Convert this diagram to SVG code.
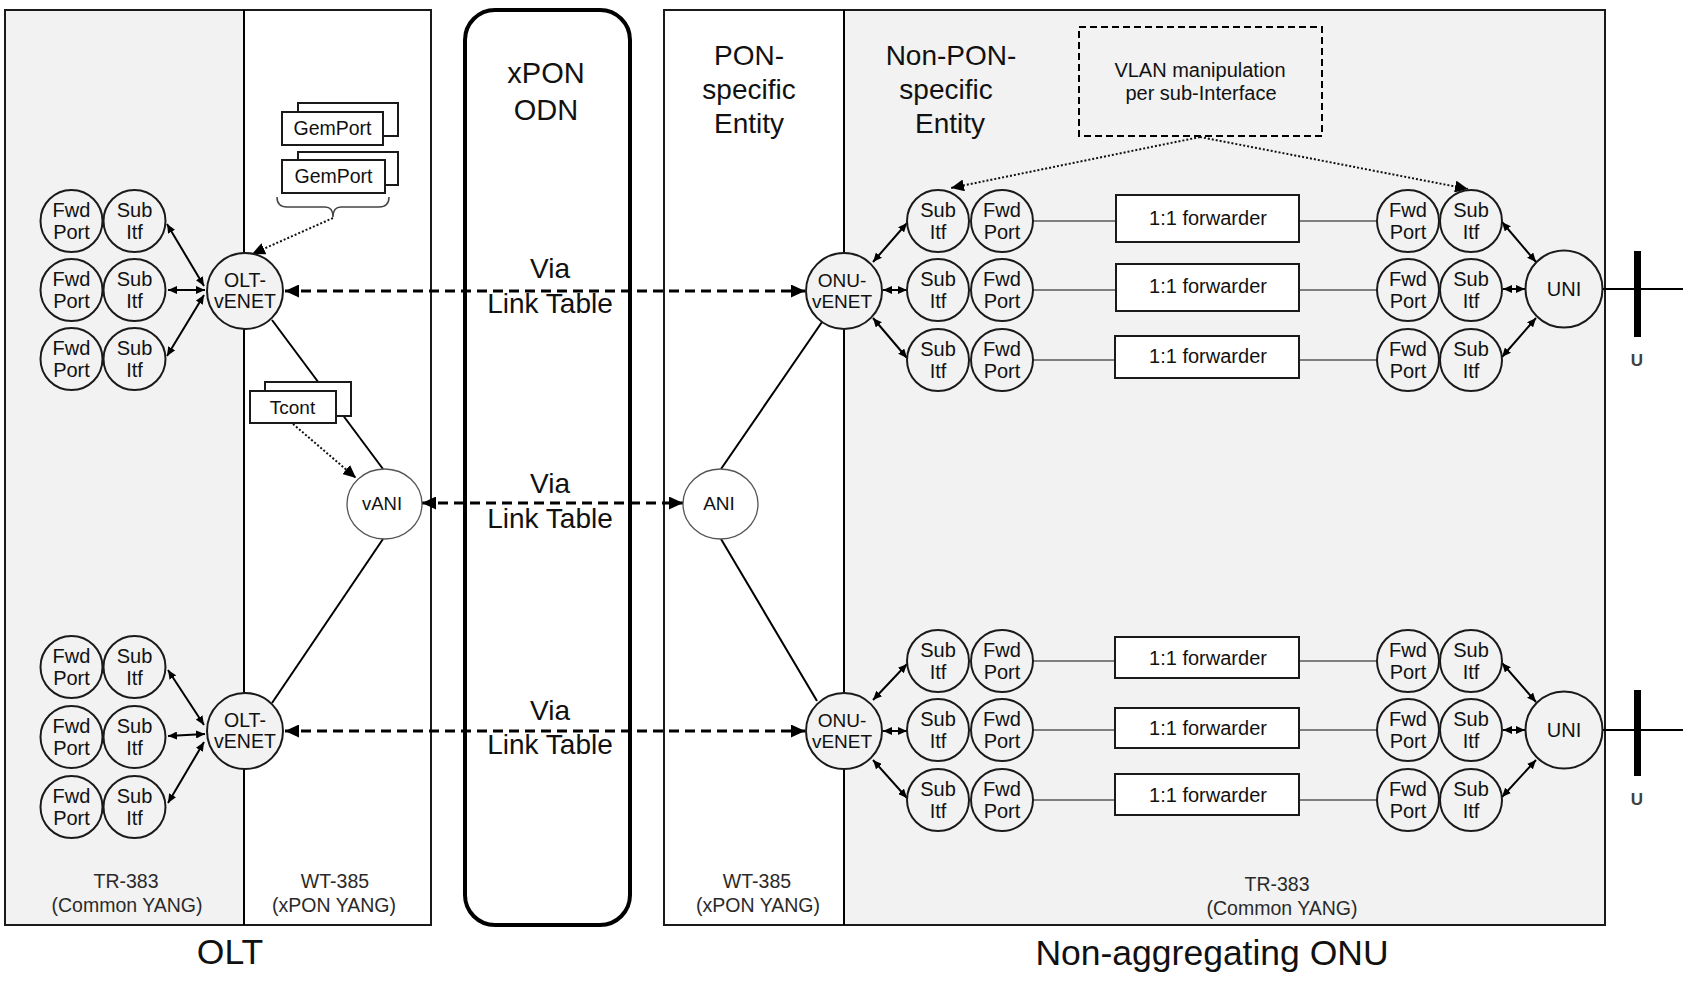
<svg xmlns="http://www.w3.org/2000/svg" width="1706" height="990" viewBox="0 0 1706 990">
<style>
.box{fill:#fff;stroke:#1a1a1a;stroke-width:2}
.gbox{fill:#f2f2f2;stroke:none}
.c{fill:none;stroke:#1a1a1a;stroke-width:2}
.cf{fill:#f2f2f2;stroke:#1a1a1a;stroke-width:2}
.cw{fill:#fff;stroke:#555;stroke-width:1.3}
.t{font-family:"Liberation Sans",Arial,sans-serif;font-size:20px;text-anchor:middle;fill:#111}
.big{font-size:28px}
.lbl{font-size:19.5px;fill:#2a2a2a}
.ttl{font-size:35.5px}
.u{font-size:17px;font-weight:bold;fill:#404040}
.dash{stroke:#000;stroke-width:3;stroke-dasharray:10 6;fill:none;marker-start:url(#ah);marker-end:url(#ah)}
.dot{stroke:#111;stroke-width:2;stroke-dasharray:2 2;fill:none;marker-end:url(#ad)}
.sl{stroke:#000;stroke-width:2;fill:none}
.da{stroke:#000;stroke-width:2;fill:none;marker-start:url(#as);marker-end:url(#as)}
.gl{stroke:#7f7f7f;stroke-width:2;fill:none}
.fw{fill:#fff;stroke:#1a1a1a;stroke-width:2}
</style>
<defs>
<marker id="ah" viewBox="0 0 14 13" refX="14" refY="6.5" markerWidth="14" markerHeight="13" markerUnits="userSpaceOnUse" orient="auto-start-reverse"><path d="M0,0 L14,6.5 L0,13 z" fill="#000"/></marker>
<marker id="ad" viewBox="0 0 13 12" refX="13" refY="6" markerWidth="13" markerHeight="12" markerUnits="userSpaceOnUse" orient="auto"><path d="M0,0 L13,6 L0,12 z" fill="#000"/></marker>
<marker id="as" viewBox="0 0 9 8" refX="9" refY="4" markerWidth="9" markerHeight="8" markerUnits="userSpaceOnUse" orient="auto-start-reverse"><path d="M0,0 L9,4 L0,8 z" fill="#000"/></marker>
</defs>
<rect width="1706" height="990" fill="#fff"/>

<g id="olt-box">
<rect x="5" y="10" width="426" height="915" class="box"/>
<rect x="6" y="11" width="238" height="913" class="gbox"/>
<line x1="244" y1="10" x2="244" y2="925" class="sl"/>
<text class="t lbl" x="126" y="888">TR-383</text>
<text class="t lbl" x="127" y="912">(Common  YANG)</text>
<text class="t lbl" x="335" y="888">WT-385</text>
<text class="t lbl" x="334" y="912">(xPON  YANG)</text>
</g>
<g id="odn-box">
<rect x="465" y="10" width="165" height="915" rx="30" ry="30" fill="#fff" stroke="#000" stroke-width="4"/>
<text class="t" style="font-size:29px" x="546" y="83">xPON</text>
<text class="t" style="font-size:29px" x="546" y="120">ODN</text>
</g>
<g id="onu-box">
<rect x="664" y="10" width="941" height="915" class="box"/>
<rect x="845" y="11" width="759" height="913" class="gbox"/>
<line x1="844" y1="10" x2="844" y2="925" class="sl"/>
<text class="t big" x="749" y="65">PON-</text>
<text class="t big" x="749" y="99">specific</text>
<text class="t big" x="749" y="133">Entity</text>
<text class="t big" x="951" y="65">Non-PON-</text>
<text class="t big" x="946" y="99">specific</text>
<text class="t big" x="950" y="133">Entity</text>
<text class="t lbl" x="757" y="888">WT-385</text>
<text class="t lbl" x="758" y="912">(xPON  YANG)</text>
<text class="t lbl" x="1277" y="891">TR-383</text>
<text class="t lbl" x="1282" y="915">(Common  YANG)</text>
</g>
<g id="vlan-box">
<rect x="1079" y="27" width="243" height="109" fill="none" stroke="#000" stroke-width="2" stroke-dasharray="7 4"/>
<text class="t" x="1200" y="77">VLAN manipulation</text>
<text class="t" x="1201" y="100">per sub-Interface</text>
</g>

<g id="connectors">
<line x1="285" y1="291" x2="805" y2="291" class="dash"/>
<line x1="422" y1="503" x2="683" y2="503" class="dash"/>
<line x1="285" y1="731" x2="805" y2="731" class="dash"/>
<line x1="272" y1="320" x2="383" y2="469" class="sl"/>
<line x1="383" y1="539" x2="272" y2="703" class="sl"/>
<line x1="822" y1="322" x2="721" y2="469" class="sl"/>
<line x1="721" y1="539" x2="817" y2="701" class="sl"/>
<path d="M333,218 L252,254" class="dot"/>
<path d="M293,424 L356,478" class="dot"/>
<path d="M1200,137 L951,188" class="dot"/>
<path d="M1200,137 L1468,189" class="dot"/>
<path d="M167,224 L204,286" class="da"/>
<path d="M168,290 L205,290" class="da"/>
<path d="M167,356 L204,295" class="da"/>
<path d="M168,670 L204,725" class="da"/>
<path d="M168,736 L205,734" class="da"/>
<path d="M168,803 L204,742" class="da"/>
<path d="M873,262 L907,223" class="da"/>
<path d="M883,290 L907,290" class="da"/>
<path d="M873,318 L907,358" class="da"/>
<path d="M873,700 L907,664" class="da"/>
<path d="M883,731 L907,731" class="da"/>
<path d="M873,760 L907,798" class="da"/>
<path d="M1502,222 L1536,262" class="da"/>
<path d="M1503,289 L1525,289" class="da"/>
<path d="M1502,357 L1536,318" class="da"/>
<path d="M1502,663 L1536,702" class="da"/>
<path d="M1503,730 L1525,730" class="da"/>
<path d="M1502,797 L1536,760" class="da"/>
<path d="M1033,221 L1116,221 M1299,221 L1377,221 M1033,290 L1116,290 M1299,290 L1377,290 M1033,360 L1116,360 M1299,360 L1377,360" class="gl"/>
<path d="M1033,661 L1115,661 M1299,661 L1377,661 M1033,730 L1115,730 M1299,730 L1377,730 M1033,800 L1115,800 M1299,800 L1377,800" class="gl"/>
<path d="M277,197 Q277,207 287,207 L325,207 Q333,207 333,217 Q333,207 341,207 L379,207 Q389,207 389,197" fill="none" stroke="#444" stroke-width="1.5"/>
<line x1="1603" y1="289" x2="1683" y2="289" class="sl"/>
<line x1="1603" y1="730" x2="1683" y2="730" class="sl"/>
</g>

<g id="gemport-1">
<rect x="298" y="103" width="100" height="33" class="fw"/>
<rect x="282" y="112" width="101" height="33" class="fw"/>
<text class="t" style="font-size:19.5px" x="332.5" y="135">GemPort</text>
</g>
<g id="gemport-2">
<rect x="298" y="152" width="100" height="33" class="fw"/>
<rect x="282" y="160" width="103" height="33" class="fw"/>
<text class="t" style="font-size:19.5px" x="333.5" y="183">GemPort</text>
</g>
<g id="tcont">
<rect x="265" y="382" width="86" height="34" class="fw"/>
<rect x="250" y="391" width="86" height="32" class="fw"/>
<text class="t" style="font-size:19px" x="292.5" y="414">Tcont</text>
</g>

<g id="olt-venet-1"><circle cx="245" cy="291" r="38" class="cf"/><text class="t" style="font-size:19.5px" x="245" y="287">OLT-</text><text class="t" style="font-size:19.5px" x="245" y="308">vENET</text></g>
<g id="olt-venet-2"><circle cx="245" cy="731" r="38" class="cf"/><text class="t" style="font-size:19.5px" x="245" y="727">OLT-</text><text class="t" style="font-size:19.5px" x="245" y="748">vENET</text></g>
<g id="vani"><ellipse cx="384.5" cy="504" rx="37.5" ry="35" class="cw"/><text class="t" style="font-size:18.5px" x="382" y="510">vANI</text></g>
<g id="ani"><ellipse cx="720.5" cy="504" rx="37.5" ry="35" class="cw"/><text class="t" style="font-size:19px" x="719" y="510">ANI</text></g>
<g id="onu-venet-1"><circle cx="844" cy="291" r="38" class="cf"/><text class="t" style="font-size:19px" x="842" y="287">ONU-</text><text class="t" style="font-size:19px" x="842" y="308">vENET</text></g>
<g id="onu-venet-2"><circle cx="844" cy="731" r="38" class="cf"/><text class="t" style="font-size:19px" x="842" y="727">ONU-</text><text class="t" style="font-size:19px" x="842" y="748">vENET</text></g>
<g id="uni-1"><circle cx="1564" cy="289" r="38.5" class="cf"/><text class="t" x="1564" y="296">UNI</text></g>
<g id="uni-2"><circle cx="1564" cy="730" r="38.5" class="cf"/><text class="t" x="1564" y="737">UNI</text></g>

<g id="olt-port-1"><circle cx="71.5" cy="221" r="31" class="c"/><circle cx="134.5" cy="221" r="31" class="c"/><text class="t" x="71.5" y="217">Fwd</text><text class="t" x="71.5" y="239">Port</text><text class="t" x="134.5" y="217">Sub</text><text class="t" x="134.5" y="239">Itf</text></g>
<g id="olt-port-2"><circle cx="71.5" cy="290" r="31" class="c"/><circle cx="134.5" cy="290" r="31" class="c"/><text class="t" x="71.5" y="286">Fwd</text><text class="t" x="71.5" y="308">Port</text><text class="t" x="134.5" y="286">Sub</text><text class="t" x="134.5" y="308">Itf</text></g>
<g id="olt-port-3"><circle cx="71.5" cy="359" r="31" class="c"/><circle cx="134.5" cy="359" r="31" class="c"/><text class="t" x="71.5" y="355">Fwd</text><text class="t" x="71.5" y="377">Port</text><text class="t" x="134.5" y="355">Sub</text><text class="t" x="134.5" y="377">Itf</text></g>
<g id="olt-port-4"><circle cx="71.5" cy="667" r="31" class="c"/><circle cx="134.5" cy="667" r="31" class="c"/><text class="t" x="71.5" y="663">Fwd</text><text class="t" x="71.5" y="685">Port</text><text class="t" x="134.5" y="663">Sub</text><text class="t" x="134.5" y="685">Itf</text></g>
<g id="olt-port-5"><circle cx="71.5" cy="737" r="31" class="c"/><circle cx="134.5" cy="737" r="31" class="c"/><text class="t" x="71.5" y="733">Fwd</text><text class="t" x="71.5" y="755">Port</text><text class="t" x="134.5" y="733">Sub</text><text class="t" x="134.5" y="755">Itf</text></g>
<g id="olt-port-6"><circle cx="71.5" cy="807" r="31" class="c"/><circle cx="134.5" cy="807" r="31" class="c"/><text class="t" x="71.5" y="803">Fwd</text><text class="t" x="71.5" y="825">Port</text><text class="t" x="134.5" y="803">Sub</text><text class="t" x="134.5" y="825">Itf</text></g>

<g id="onu-l-1"><circle cx="938" cy="221" r="31" class="c"/><circle cx="1002" cy="221" r="31" class="c"/><text class="t" x="938" y="217">Sub</text><text class="t" x="938" y="239">Itf</text><text class="t" x="1002" y="217">Fwd</text><text class="t" x="1002" y="239">Port</text></g>
<g id="onu-l-2"><circle cx="938" cy="290" r="31" class="c"/><circle cx="1002" cy="290" r="31" class="c"/><text class="t" x="938" y="286">Sub</text><text class="t" x="938" y="308">Itf</text><text class="t" x="1002" y="286">Fwd</text><text class="t" x="1002" y="308">Port</text></g>
<g id="onu-l-3"><circle cx="938" cy="360" r="31" class="c"/><circle cx="1002" cy="360" r="31" class="c"/><text class="t" x="938" y="356">Sub</text><text class="t" x="938" y="378">Itf</text><text class="t" x="1002" y="356">Fwd</text><text class="t" x="1002" y="378">Port</text></g>
<g id="onu-l-4"><circle cx="938" cy="661" r="31" class="c"/><circle cx="1002" cy="661" r="31" class="c"/><text class="t" x="938" y="657">Sub</text><text class="t" x="938" y="679">Itf</text><text class="t" x="1002" y="657">Fwd</text><text class="t" x="1002" y="679">Port</text></g>
<g id="onu-l-5"><circle cx="938" cy="730" r="31" class="c"/><circle cx="1002" cy="730" r="31" class="c"/><text class="t" x="938" y="726">Sub</text><text class="t" x="938" y="748">Itf</text><text class="t" x="1002" y="726">Fwd</text><text class="t" x="1002" y="748">Port</text></g>
<g id="onu-l-6"><circle cx="938" cy="800" r="31" class="c"/><circle cx="1002" cy="800" r="31" class="c"/><text class="t" x="938" y="796">Sub</text><text class="t" x="938" y="818">Itf</text><text class="t" x="1002" y="796">Fwd</text><text class="t" x="1002" y="818">Port</text></g>

<g id="onu-r-1"><circle cx="1408" cy="221" r="31" class="c"/><circle cx="1471" cy="221" r="31" class="c"/><text class="t" x="1408" y="217">Fwd</text><text class="t" x="1408" y="239">Port</text><text class="t" x="1471" y="217">Sub</text><text class="t" x="1471" y="239">Itf</text></g>
<g id="onu-r-2"><circle cx="1408" cy="290" r="31" class="c"/><circle cx="1471" cy="290" r="31" class="c"/><text class="t" x="1408" y="286">Fwd</text><text class="t" x="1408" y="308">Port</text><text class="t" x="1471" y="286">Sub</text><text class="t" x="1471" y="308">Itf</text></g>
<g id="onu-r-3"><circle cx="1408" cy="360" r="31" class="c"/><circle cx="1471" cy="360" r="31" class="c"/><text class="t" x="1408" y="356">Fwd</text><text class="t" x="1408" y="378">Port</text><text class="t" x="1471" y="356">Sub</text><text class="t" x="1471" y="378">Itf</text></g>
<g id="onu-r-4"><circle cx="1408" cy="661" r="31" class="c"/><circle cx="1471" cy="661" r="31" class="c"/><text class="t" x="1408" y="657">Fwd</text><text class="t" x="1408" y="679">Port</text><text class="t" x="1471" y="657">Sub</text><text class="t" x="1471" y="679">Itf</text></g>
<g id="onu-r-5"><circle cx="1408" cy="730" r="31" class="c"/><circle cx="1471" cy="730" r="31" class="c"/><text class="t" x="1408" y="726">Fwd</text><text class="t" x="1408" y="748">Port</text><text class="t" x="1471" y="726">Sub</text><text class="t" x="1471" y="748">Itf</text></g>
<g id="onu-r-6"><circle cx="1408" cy="800" r="31" class="c"/><circle cx="1471" cy="800" r="31" class="c"/><text class="t" x="1408" y="796">Fwd</text><text class="t" x="1408" y="818">Port</text><text class="t" x="1471" y="796">Sub</text><text class="t" x="1471" y="818">Itf</text></g>

<g id="fwd-1"><rect x="1116" y="195" width="183" height="47" class="fw"/><text class="t" x="1208" y="225">1:1 forwarder</text></g>
<g id="fwd-2"><rect x="1116" y="264" width="183" height="47" class="fw"/><text class="t" x="1208" y="293">1:1 forwarder</text></g>
<g id="fwd-3"><rect x="1115" y="336" width="184" height="42" class="fw"/><text class="t" x="1208" y="363">1:1 forwarder</text></g>
<g id="fwd-4"><rect x="1115" y="637" width="184" height="41" class="fw"/><text class="t" x="1208" y="665">1:1 forwarder</text></g>
<g id="fwd-5"><rect x="1115" y="708" width="184" height="40" class="fw"/><text class="t" x="1208" y="735">1:1 forwarder</text></g>
<g id="fwd-6"><rect x="1115" y="774" width="184" height="41" class="fw"/><text class="t" x="1208" y="802">1:1 forwarder</text></g>

<g id="u-ref-1"><rect x="1634" y="251" width="7" height="86" fill="#000"/><text class="t u" x="1637" y="366">U</text></g>
<g id="u-ref-2"><rect x="1634" y="690" width="7" height="86" fill="#000"/><text class="t u" x="1637" y="805">U</text></g>

<g id="link-labels">
<text class="t big" x="550" y="278">Via</text>
<text class="t big" x="550" y="313">Link Table</text>
<text class="t big" x="550" y="493">Via</text>
<text class="t big" x="550" y="528">Link Table</text>
<text class="t big" x="550" y="720">Via</text>
<text class="t big" x="550" y="754">Link Table</text>
</g>
<g id="titles">
<text class="t ttl" x="230" y="964">OLT</text>
<text class="t ttl" x="1212" y="965">Non-aggregating ONU</text>
</g>
</svg>
